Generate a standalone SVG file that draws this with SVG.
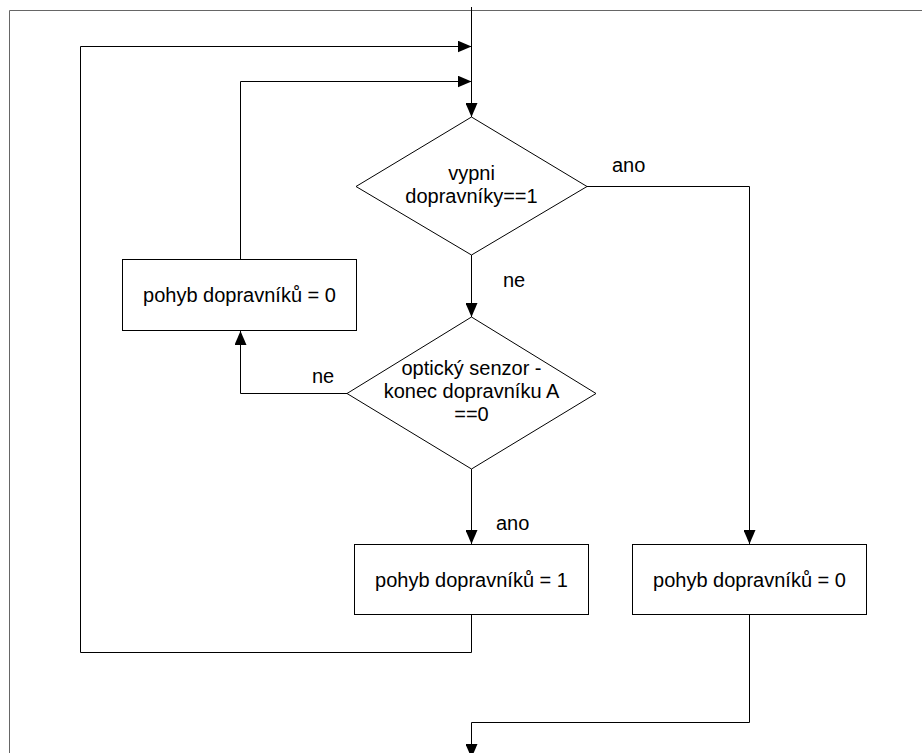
<svg xmlns="http://www.w3.org/2000/svg" width="922" height="753" viewBox="0 0 922 753">
<style>
.ln{fill:none;stroke:#000;stroke-width:1}
.nd{fill:#fff;stroke:#000;stroke-width:1}
.t{font-family:"Liberation Sans",Arial,sans-serif;font-size:20px;fill:#000}
.c{text-anchor:middle}
</style>
<defs>
<marker id="ah" markerWidth="14" markerHeight="12" refX="14" refY="6" orient="auto" markerUnits="userSpaceOnUse">
<path d="M0,0 L14,6 L0,12 z" fill="#000"/>
</marker>
</defs>
<rect width="922" height="753" fill="#fff"/>
<path d="M9.5,753 V10.5 H922" fill="none" stroke="#666" stroke-width="1"/>
<g id="connectors">
<path class="ln" d="M471.5,7 V117" marker-end="url(#ah)"/>
<path class="ln" d="M471.5,615 V652.5 H80.5 V46.5 H471.5" marker-end="url(#ah)"/>
<path class="ln" d="M240.5,259 V81.5 H471.5" marker-end="url(#ah)"/>
<path class="ln" d="M587,186.5 H749.5 V544" marker-end="url(#ah)"/>
<path class="ln" d="M471.5,255 V317" marker-end="url(#ah)"/>
<path class="ln" d="M347,393.5 H240.5 V331" marker-end="url(#ah)"/>
<path class="ln" d="M471.5,469 V544" marker-end="url(#ah)"/>
<path class="ln" d="M749.5,615 V722.5 H471.5 V758" marker-end="url(#ah)"/>
<text class="t" x="612" y="172">ano</text>
<text class="t" x="503" y="287">ne</text>
<text class="t" x="312" y="383">ne</text>
<text class="t" x="496" y="530">ano</text>
</g>
<g id="d1">
<polygon class="nd" points="471.5,117 587,186.5 471.5,255 356,186.5"/>
<text class="t c" x="471.5" y="180">vypni</text>
<text class="t c" x="471.5" y="203">dopravníky==1</text>
</g>
<g id="d2">
<polygon class="nd" points="471.5,317 596,393.5 471.5,469 347,393.5"/>
<text class="t c" x="471.5" y="375">optický senzor -</text>
<text class="t c" x="471.5" y="398">konec dopravníku A</text>
<text class="t c" x="471.5" y="421">==0</text>
</g>
<g id="b1">
<rect class="nd" x="122.5" y="259.5" width="234" height="71"/>
<text class="t c" x="239.5" y="302">pohyb dopravníků = 0</text>
</g>
<g id="b2">
<rect class="nd" x="354.5" y="544.5" width="234" height="70"/>
<text class="t c" x="471.5" y="587">pohyb dopravníků = 1</text>
</g>
<g id="b3">
<rect class="nd" x="632.5" y="544.5" width="234" height="70"/>
<text class="t c" x="749.5" y="587">pohyb dopravníků = 0</text>
</g>
</svg>
